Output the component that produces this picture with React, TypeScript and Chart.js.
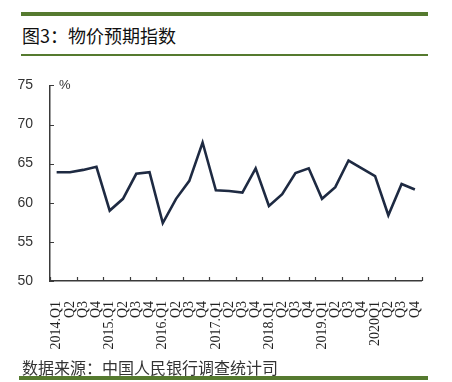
import React, { useEffect, useRef } from "react";
import { Chart, registerables } from "chart.js";

Chart.register(...registerables);

const categories: string[] = [
  "2014.Q1", "Q2", "Q3", "Q4",
  "2015.Q1", "Q2", "Q3", "Q4",
  "2016.Q1", "Q2", "Q3", "Q4",
  "2017.Q1", "Q2", "Q3", "Q4",
  "2018.Q1", "Q2", "Q3", "Q4",
  "2019.Q1", "Q2", "Q3", "Q4",
  "2020Q1", "Q2", "Q3", "Q4",
];

const priceExpectation: number[] = [
  63.9, 63.9, 64.2, 64.6,
  59.0, 60.5, 63.7, 63.9,
  57.4, 60.5, 62.8, 67.7,
  61.6, 61.5, 61.3, 64.4,
  59.6, 61.1, 63.8, 64.4,
  60.5, 62.0, 65.4, 64.4,
  63.4, 58.4, 62.4, 61.7,
];

const yTicks: number[] = [50, 55, 60, 65, 70, 75];

const titleText = "图3：物价预期指数";
const sourceText = "数据来源：中国人民银行调查统计司";
const unitText = "%";

const GREEN = "#557a2f";
const AXIS = "#3a3a3a";

const decorPlugin = {
  id: "decor",
  afterDraw(chart: any) {
    const { ctx, chartArea, scales } = chart;
    const y = scales.y;
    ctx.save();
    ctx.strokeStyle = AXIS;
    ctx.lineWidth = 1.2;
    const n = categories.length;
    const step = (chartArea.right - chartArea.left) / n;
    ctx.beginPath();
    for (let i = 0; i <= n; i += 2) {
      const px = Math.round(chartArea.left + i * step) + 0.5;
      ctx.moveTo(px, chartArea.bottom);
      ctx.lineTo(px, chartArea.bottom - 4);
    }
    for (const v of yTicks) {
      const py = Math.round(y.getPixelForValue(v)) + 0.5;
      ctx.moveTo(chartArea.left, py);
      ctx.lineTo(chartArea.left + 4, py);
    }
    ctx.stroke();
    ctx.fillStyle = "#333";
    ctx.font = "13px 'Liberation Sans'";
    ctx.textBaseline = "middle";
    ctx.textAlign = "left";
    ctx.fillText(unitText, chartArea.left + 9, y.getPixelForValue(75));
    ctx.restore();
  },
};

export default function App() {
  const ref = useRef<HTMLCanvasElement | null>(null);

  useEffect(() => {
    if (!ref.current) return;
    const chart = new Chart(ref.current, {
      type: "line",
      data: {
        labels: categories,
        datasets: [
          {
            data: priceExpectation,
            borderColor: "#1e2a42",
            borderWidth: 2.6,
            pointRadius: 0,
            tension: 0,
            fill: false,
          },
        ],
      },
      options: {
        responsive: false,
        animation: false,
        layout: { padding: { top: 25, right: 18, left: 0, bottom: 0 } },
        plugins: { legend: { display: false }, tooltip: { enabled: false } },
        scales: {
          x: {
            type: "category",
            offset: true,
            grid: { display: false, drawTicks: false },
            border: { display: true, color: AXIS, width: 1.5 },
            ticks: {
              autoSkip: false,
              maxRotation: 90,
              minRotation: 90,
              padding: 20,
              color: "#222",
              font: { family: "'Liberation Serif'", size: 14 },
            },
            afterFit(scale: any) {
              scale.height = 79;
            },
          },
          y: {
            min: 50,
            max: 75,
            grid: { display: false, drawTicks: false },
            border: { display: true, color: AXIS, width: 1.5 },
            ticks: {
              stepSize: 5,
              padding: 17,
              color: "#333",
              font: { family: "'Liberation Sans'", size: 14 },
            },
            afterFit(scale: any) {
              scale.width = 50;
            },
          },
        },
      },
      plugins: [decorPlugin],
    });
    return () => chart.destroy();
  }, []);

  return (
    <div
      style={{
        position: "absolute",
        left: 0,
        top: 0,
        width: 452,
        height: 382,
        background: "#fff",
        overflow: "hidden",
      }}
    >
      <div style={{ position: "absolute", left: 21, top: 12, width: 407, height: 4, background: GREEN }} />
      <div
        style={{
          position: "absolute",
          left: 22,
          top: 24,
          fontFamily: "'Noto Sans CJK SC', sans-serif",
          fontSize: 18,
          lineHeight: "22px",
          color: "#111",
          whiteSpace: "nowrap",
        }}
      >
        {titleText}
      </div>
      <div style={{ position: "absolute", left: 21, top: 54, width: 407, height: 2, background: GREEN }} />
      <canvas
        ref={ref}
        width={452}
        height={300}
        style={{ position: "absolute", left: 0, top: 60, width: 452, height: 300 }}
      />
      <div
        style={{
          position: "absolute",
          left: 22,
          top: 357,
          fontFamily: "'Noto Sans CJK SC', sans-serif",
          fontSize: 16,
          lineHeight: "20px",
          color: "#333",
          whiteSpace: "nowrap",
        }}
      >
        {sourceText}
      </div>
      <div style={{ position: "absolute", left: 19, top: 376, width: 409, height: 4, background: GREEN }} />
    </div>
  );
}
